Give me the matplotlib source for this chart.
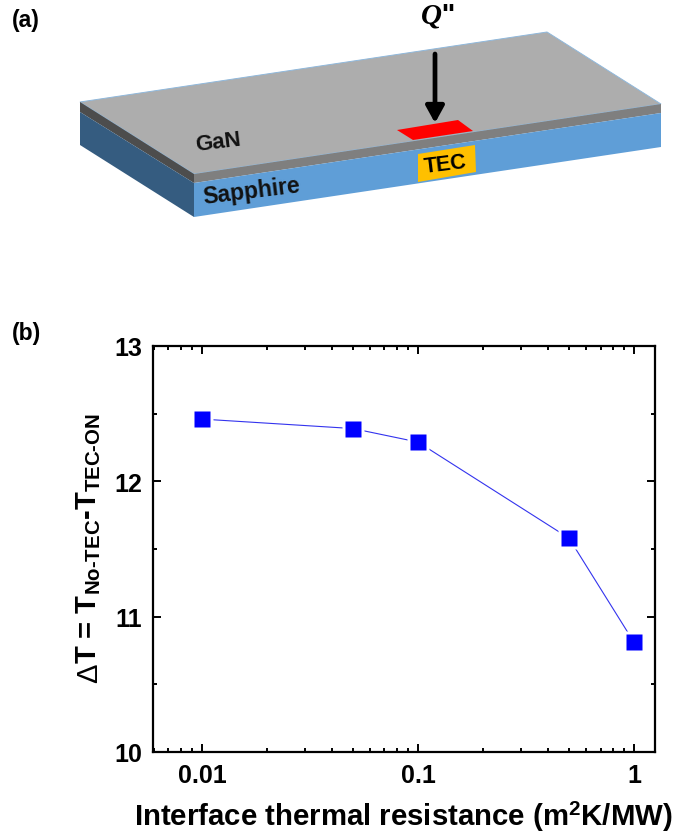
import matplotlib
matplotlib.use('Agg')
import matplotlib.pyplot as plt
from matplotlib.patches import Polygon
from matplotlib.ticker import FixedLocator, FixedFormatter, NullFormatter

plt.rcParams['font.family'] = ['Liberation Sans', 'DejaVu Sans']
plt.rcParams['mathtext.fontset'] = 'custom'
plt.rcParams['mathtext.rm'] = 'Liberation Sans:bold'
plt.rcParams['mathtext.bf'] = 'Liberation Sans:bold'
plt.rcParams['mathtext.it'] = 'Liberation Serif:italic:bold'

resistance = [0.01, 0.05, 0.1, 0.5, 1]
delta_t = [12.46, 12.39, 12.29, 11.58, 10.81]
x_ticks = [0.01, 0.1, 1]
x_tick_labels = ['0.01', '0.1', '1']
y_ticks = [10, 11, 12, 13]

W, H = 686, 837
fig = plt.figure(figsize=(W / 100, H / 100), dpi=100)

# schematic in pixel coords
bg = fig.add_axes([0, 0, 1, 1])
bg.set_xlim(0, W)
bg.set_ylim(H, 0)
bg.axis('off')

faces = [
    ([(80, 103), (547, 33), (661, 105), (194, 175)], '#adadad', '#8fb8dc'),
    ([(80, 103), (194, 175), (194, 184), (80, 113)], '#4d4d4d', 'none'),
    ([(194, 175), (661, 105), (661, 114), (194, 184)], '#7f7f7f', 'none'),
    ([(194, 184), (661, 114), (661, 148), (194, 218)], '#5f9ed7', 'none'),
    ([(80, 113), (194, 184), (194, 218), (80, 146)], '#355c80', 'none'),
    ([(397, 131), (458, 121), (473, 132), (413, 141)], '#ff0000', 'none'),
    ([(418, 155), (475, 146), (476, 173), (418, 183)], '#ffc000', 'none'),
]
for pts, col, edge in faces:
    bg.add_patch(Polygon(pts, closed=True, fc=col, ec=edge, lw=0.7))

bg.annotate('', xy=(435, 124), xytext=(435, 55),
            arrowprops=dict(arrowstyle='-|>,head_width=0.55,head_length=1.0', color='black', lw=3.4,
                            shrinkA=0, shrinkB=0))

bg.text(12, 20, '(a)', fontsize=16.5, fontweight='bold', va='center')
bg.text(12, 333, '(b)', fontsize=16.5, fontweight='bold', va='center')
bg.text(438, 16, r"$\mathit{Q}$''", fontsize=21, ha='center', va='center', fontweight='bold')
bg.text(218, 143, 'GaN', fontsize=16, fontweight='bold', rotation=7, ha='center', va='center', color='#111111')
bg.text(252, 192, 'Sapphire', fontsize=16.5, fontweight='bold', rotation=7, ha='center', va='center', color='#111111')
bg.text(445, 165, 'TEC', fontsize=15.5, fontweight='bold', rotation=7, ha='center', va='center')

# chart
ax = fig.add_axes([153 / W, 1 - 753 / H, (655 - 153) / W, (753 - 347) / H])
ax.patch.set_alpha(0)
ax.set_xscale('log')
ax.plot(resistance, delta_t, '-', color='#3333ee', lw=0.8)
# Origin style gap between line and symbol
ax.plot(resistance, delta_t, 's', ms=16, mfc='white', mec='none')
ax.plot(resistance, delta_t, 's', ms=11, mfc='#0000ff', mec='none')
ax.set_xlim(0.00594, 1.25)
ax.set_ylim(10, 13)

ax.xaxis.set_major_locator(FixedLocator(x_ticks))
ax.xaxis.set_major_formatter(FixedFormatter(x_tick_labels))
ax.xaxis.set_minor_formatter(NullFormatter())
ax.set_yticks(y_ticks)
ax.set_yticks([10.5, 11.5, 12.5], minor=True)

ax.tick_params(which='major', direction='in', top=True, right=True, length=6, width=1.4, pad=8,
               labelsize=18)
ax.tick_params(which='minor', direction='in', top=True, right=True, length=3, width=1.4)
for lab in ax.get_xticklabels() + ax.get_yticklabels():
    lab.set_fontweight('bold')
for sp in ax.spines.values():
    sp.set_linewidth(1.6)

bg.text(403, 817, r'Interface thermal resistance (m$^{\mathbf{2}}$K/MW)', fontsize=21.2, fontweight='bold',
        ha='center', va='center')
bg.text(89, 539, r'T = T$_{\mathrm{No\text{-}TEC}}$-T$_{\mathrm{TEC\text{-}ON}}$', fontsize=21,
        fontweight='bold', rotation=90, ha='center', va='center')
bg.text(89, 673, '\u0394', fontsize=21, rotation=90, ha='center', va='center')

fig.savefig('out.png', dpi=100)
